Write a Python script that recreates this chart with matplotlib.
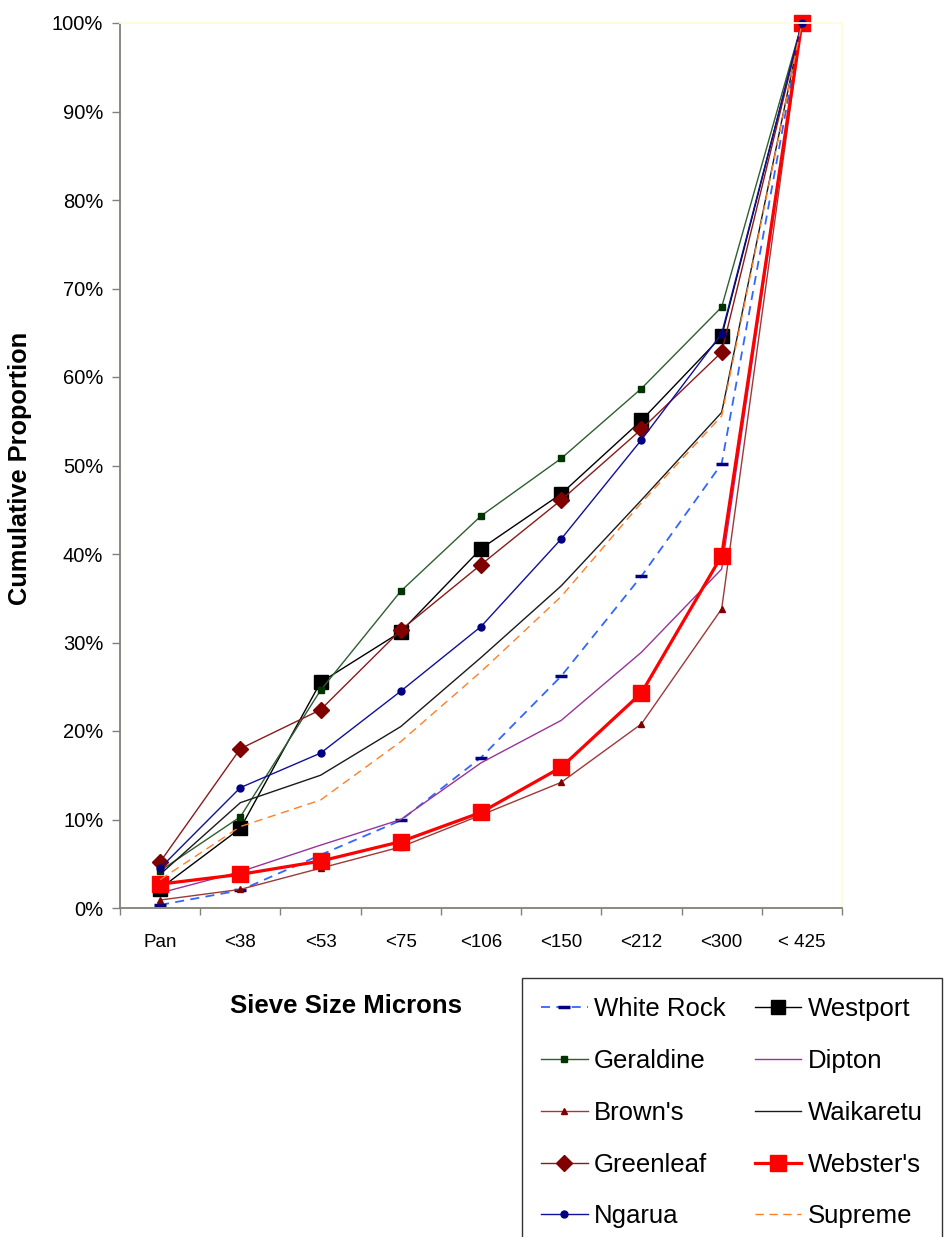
import matplotlib
matplotlib.use("Agg")
import matplotlib.pyplot as plt
from matplotlib.ticker import FixedLocator, FixedFormatter, PercentFormatter

plt.rcParams['font.family'] = ['Liberation Sans', 'DejaVu Sans']

categories = ['Pan', '<38', '<53', '<75', '<106', '<150', '<212', '<300', '< 425']

white_rock = [0.35, 2.0, 6.0, 9.9, 17.0, 26.2, 37.5, 50.2, 100]
westport   = [2.2, 9.0, 25.5, 31.2, 40.6, 46.8, 55.1, 64.6, 100]
geraldine  = [4.2, 10.3, 24.6, 35.8, 44.3, 50.8, 58.7, 67.9, 100]
dipton     = [1.7, 4.1, 7.1, 10.0, 16.4, 21.2, 28.9, 38.3, 100]
browns     = [0.9, 2.1, 4.5, 6.9, 10.5, 14.2, 20.8, 33.8, 100]
waikaretu  = [3.8, 11.9, 15.0, 20.5, 28.3, 36.4, 46.1, 56.0, 100]
greenleaf  = [5.2, 18.0, 22.4, 31.4, 38.8, 46.1, 54.1, 62.8, 100]
websters   = [2.7, 3.8, 5.3, 7.5, 10.8, 15.9, 24.3, 39.8, 100]
ngarua     = [4.5, 13.6, 17.5, 24.5, 31.8, 41.7, 52.9, 64.9, 100]
supreme    = [3.2, 9.2, 12.2, 18.8, 26.7, 35.2, 45.8, 55.6, 100]

fig = plt.figure(figsize=(9.47, 12.37), dpi=100)
ax = fig.add_axes([120 / 947, 1 - 908 / 1237, (842 - 120) / 947, (908 - 23) / 1237])

x = list(range(len(categories)))

series = [
    ("White Rock", white_rock, dict(color='#3366ff', lw=1.3, ls=(0, (5, 3.5)), marker='_',
                                   ms=8, mec='#000080', mfc='#000080', mew=2.5)),
    ("Westport", westport, dict(color='#000000', lw=1.0, marker='s', ms=10,
                               mec='#000000', mfc='#000000')),
    ("Geraldine", geraldine, dict(color='#2f5f2f', lw=1.0, marker='s', ms=5,
                                 mec='#003300', mfc='#003300')),
    ("Dipton", dipton, dict(color='#993399', lw=1.0)),
    ("Brown's", browns, dict(color='#a03838', lw=1.0, marker='^', ms=5,
                             mec='#800000', mfc='#800000')),
    ("Waikaretu", waikaretu, dict(color='#1a1a1a', lw=1.0)),
    ("Greenleaf", greenleaf, dict(color='#8b1a1a', lw=1.0, marker='D', ms=8,
                                 mec='#800000', mfc='#800000')),
    ("Webster's", websters, dict(color='#ff0000', lw=2.3, marker='s', ms=11,
                                 mec='#ff0000', mfc='#ff0000')),
    ("Ngarua", ngarua, dict(color='#10109a', lw=1.0, marker='o', ms=5,
                           mec='#000080', mfc='#000080')),
    ("Supreme", supreme, dict(color='#ff7f27', lw=1.0, ls=(0, (6, 4)))),
]

handles = {}
for name, vals, style in series:
    (ln,) = ax.plot(x, vals, label=name, clip_on=False, **style)
    handles[name] = ln

ax.set_xlim(-0.5, len(categories) - 0.5)
ax.set_ylim(0, 100)

# y axis: percent ticks every 10%
ax.yaxis.set_major_locator(FixedLocator(range(0, 101, 10)))
ax.yaxis.set_major_formatter(PercentFormatter(100, decimals=0))
ax.tick_params(axis='y', which='major', direction='out', length=6, width=1,
               color='#808080', labelsize=14.5, pad=6)

# x axis: ticks between categories, labels centred on categories
ax.xaxis.set_major_locator(FixedLocator([i - 0.5 for i in range(len(categories) + 1)]))
ax.xaxis.set_major_formatter(FixedFormatter([''] * (len(categories) + 1)))
ax.xaxis.set_minor_locator(FixedLocator(x))
ax.xaxis.set_minor_formatter(FixedFormatter(categories))
ax.tick_params(axis='x', which='major', direction='out', length=5, width=1, color='#808080')
ax.tick_params(axis='x', which='minor', length=0, labelsize=13.5, pad=19)

for side in ('left', 'bottom'):
    ax.spines[side].set_color('#808075')
    ax.spines[side].set_linewidth(1.3)
for side in ('top', 'right'):
    ax.spines[side].set_color('#fffbdc')
    ax.spines[side].set_linewidth(1.3)

fig.text(346 / 947, 1 - 1006 / 1237, 'Sieve Size Microns', fontsize=18.5,
         fontweight='bold', ha='center', va='center')
fig.text(20 / 947, 1 - 468 / 1237, 'Cumulative Proportion', fontsize=18.3,
         fontweight='bold', ha='center', va='center', rotation=90)

order = ["White Rock", "Geraldine", "Brown's", "Greenleaf", "Ngarua",
         "Westport", "Dipton", "Waikaretu", "Webster's", "Supreme"]
leg = fig.legend([handles[n] for n in order], order, loc='upper left',
                 bbox_to_anchor=(522 / 947, 1 - 978 / 1237), ncol=2,
                 fontsize=18.5, frameon=True, fancybox=False, edgecolor='#000000',
                 handlelength=1.8, handletextpad=0.25, columnspacing=1.15,
                 labelspacing=1.08, borderpad=0.75, borderaxespad=0, numpoints=1)
leg.get_frame().set_linewidth(1.0)

fig.savefig('out.png', dpi=100)
